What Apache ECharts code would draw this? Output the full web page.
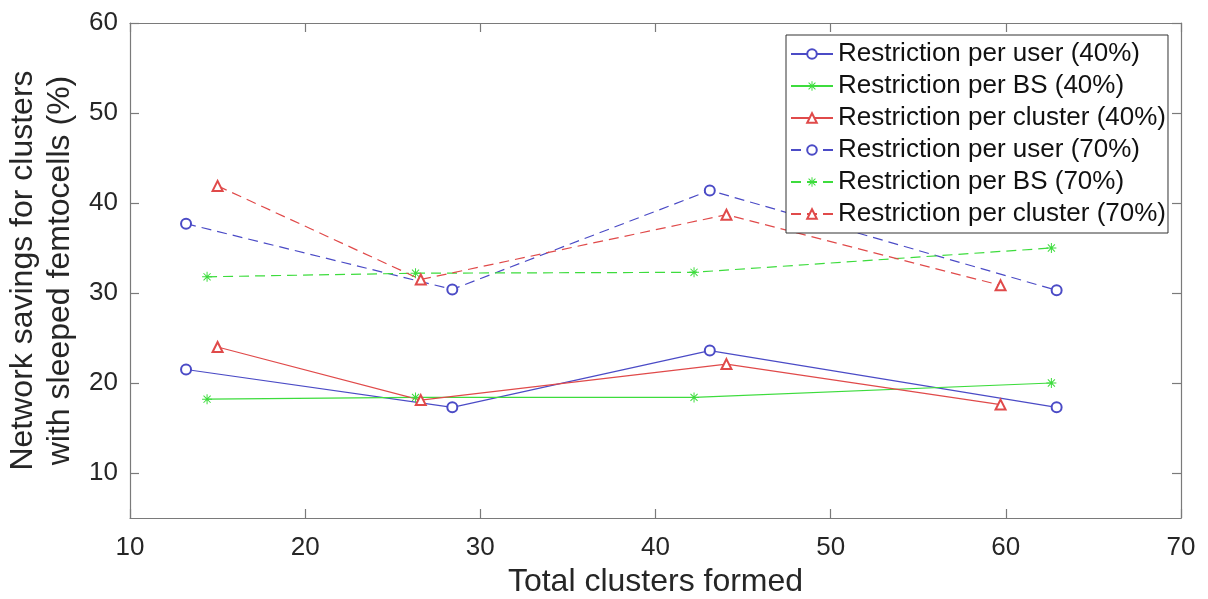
<!DOCTYPE html>
<html>
<head>
<meta charset="utf-8">
<script src="https://cdn.jsdelivr.net/npm/echarts@6/dist/echarts.min.js"></script>
<style>
html,body{margin:0;padding:0;background:#fff;}
#chart{width:1208px;height:599px;}
</style>
</head>
<body>
<div id="chart"></div>
<script>
// ---- data ----
const seriesNames = [
  'Restriction per user (40%)',
  'Restriction per BS (40%)',
  'Restriction per cluster (40%)',
  'Restriction per user (70%)',
  'Restriction per BS (70%)',
  'Restriction per cluster (70%)'
];
const xUser = [13.2, 28.4, 43.1, 62.9];
const xBS = [14.4, 26.3, 42.2, 62.6];
const xCluster = [15.0, 26.6, 44.05, 59.7];
const user40 = [21.5, 17.3, 23.6, 17.3];
const bs40 = [18.2, 18.4, 18.4, 20.0];
const cluster40 = [24.0, 18.1, 22.1, 17.6];
const user70 = [37.7, 30.4, 41.4, 30.3];
const bs70 = [31.8, 32.2, 32.3, 35.0];
const cluster70 = [41.9, 31.5, 38.7, 30.85];
const xTicks = [10, 20, 30, 40, 50, 60, 70];
const yTicks = [10, 20, 30, 40, 50, 60];

// ---- styling ----
const BLUE = '#4b4bc6', GREEN = '#3ddc3d', RED = '#e04a4a';
const FONT = '"Liberation Sans", Arial, sans-serif';
const TXT = '#262626';
const AX = '#7a7a7a';
const STAR = 'path://M4.5 0L5.5 0L5.5 10L4.5 10Z M0 4.5L10 4.5L10 5.5L0 5.5Z M1.1 1.8L1.8 1.1L8.9 8.2L8.2 8.9Z M8.2 1.1L8.9 1.8L1.8 8.9L1.1 8.2Z';

function pairs(xs, ys){ return xs.map((x,i)=>[x, ys[i]]); }

function mk(name, xs, ys, color, symbol, dashed){
  const isStar = symbol === STAR;
  return {
    name: name,
    type: 'line',
    xAxisIndex: 0, yAxisIndex: 0,
    data: pairs(xs, ys),
    symbol: symbol,
    symbolSize: 10,
    showSymbol: true,
    animation: false,
    lineStyle: {color: color, width: 1.2, type: dashed ? [10, 6] : 'solid'},
    itemStyle: isStar ? {color: color} : {color: color, borderColor: color, borderWidth: 1.2},
    emphasis: {disabled: true}
  };
}

const chart = echarts.init(document.getElementById('chart'), null, {renderer: 'canvas'});

const baseX = {
  type: 'value', min: 10, max: 70, interval: 10,
  axisLine: {show: true, onZero: false, lineStyle: {color: AX, width: 1.2}},
  axisTick: {show: true, inside: true, length: 9, lineStyle: {color: AX, width: 1.2}},
  splitLine: {show: false}
};
const baseY = {
  type: 'value', min: 5, max: 60,
  axisLine: {show: true, onZero: false, lineStyle: {color: AX, width: 1.2}},
  axisTick: {show: true, inside: true, length: 9, customValues: yTicks, lineStyle: {color: AX, width: 1.2}},
  splitLine: {show: false}
};

chart.setOption({
  backgroundColor: '#fff',
  animation: false,
  grid: {left: 130, right: 27, top: 23, bottom: 81, containLabel: false, outerBoundsMode: 'none'},
  xAxis: [
    Object.assign({}, baseX, {
      position: 'bottom',
      axisLabel: {show: true, color: TXT, fontSize: 26, fontFamily: FONT, margin: 17,
        customValues: xTicks},
      name: 'Total clusters formed',
      nameLocation: 'middle', nameGap: 48,
      nameTextStyle: {color: TXT, fontSize: 32, fontFamily: FONT}
    }),
    Object.assign({}, baseX, {position: 'top', axisLabel: {show: false}})
  ],
  yAxis: [
    Object.assign({}, baseY, {
      position: 'left',
      axisLabel: {show: true, color: TXT, fontSize: 26, fontFamily: FONT, margin: 12,
        customValues: yTicks},
      name: 'Network savings for clusters\nwith sleeped femtocells (%)',
      nameLocation: 'middle', nameGap: 49,
      nameTextStyle: {color: TXT, fontSize: 32, fontFamily: FONT, lineHeight: 37}
    }),
    Object.assign({}, baseY, {position: 'right', axisLabel: {show: false}})
  ],
  legend: {
    orient: 'vertical',
    left: 786, top: 35,
    padding: [3, 2, 3, 4],
    itemGap: 0,
    itemWidth: 42, itemHeight: 12,
    backgroundColor: '#fff',
    borderColor: '#333', borderWidth: 1,
    textStyle: {color: '#111', fontSize: 26, fontFamily: FONT, lineHeight: 32},
    data: seriesNames
  },
  series: [
    mk(seriesNames[0], xUser, user40, BLUE, 'emptyCircle', false),
    mk(seriesNames[1], xBS, bs40, GREEN, STAR, false),
    mk(seriesNames[2], xCluster, cluster40, RED, 'emptyTriangle', false),
    mk(seriesNames[3], xUser, user70, BLUE, 'emptyCircle', true),
    mk(seriesNames[4], xBS, bs70, GREEN, STAR, true),
    mk(seriesNames[5], xCluster, cluster70, RED, 'emptyTriangle', true)
  ]
});
</script>
</body>
</html>
